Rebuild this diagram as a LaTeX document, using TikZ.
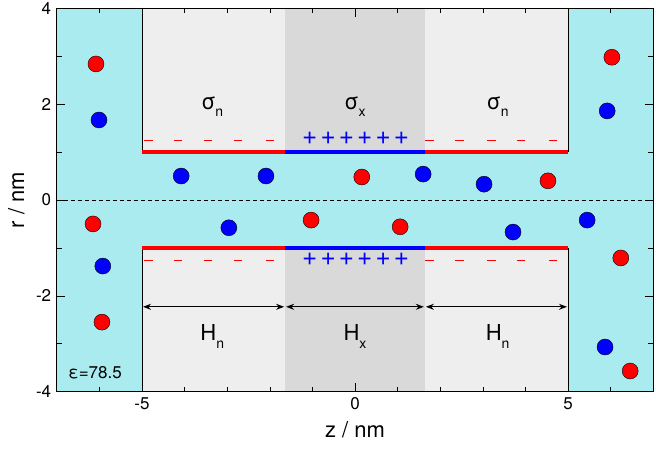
\documentclass[tikz,border=0pt]{standalone}
\usepackage{fontspec}
\setmainfont{TeX Gyre Heros}
\usetikzlibrary{arrows.meta}
\definecolor{water}{RGB}{170,235,240}
\definecolor{wallx}{RGB}{217,217,217}
\definecolor{walln}{RGB}{238,238,238}
\newcommand{\subsz}{\fontsize{14}{14}\selectfont}
\tikzset{
  ionp/.style={circle, draw, fill=red, inner sep=0pt, minimum size=16pt},
  ionn/.style={circle, draw, fill=blue, inner sep=0pt, minimum size=16pt},
  lab/.style={font=\fontsize{17}{17}\selectfont},
  big/.style={font=\fontsize{22}{22}\selectfont},
  plus/.style={blue, font=\fontsize{26}{26}\selectfont, inner sep=0pt},
}
\begin{document}
\begin{tikzpicture}[x=42.6pt,y=47.9pt]
\useasboundingbox (-8.333,-5.198) rectangle (7.066,4.175);
% regions
\fill[water] (-7,-4) rectangle (7,4);
\fill[walln] (-5,1) rectangle (5,4);
\fill[walln] (-5,-1) rectangle (5,-4);
\fill[wallx] (-1.64,1) rectangle (1.64,4);
\fill[wallx] (-1.64,-1) rectangle (1.64,-4);
\draw (-5,4) -- (-5,1) (5,4) -- (5,1) (-5,-4) -- (-5,-1) (5,-4) -- (5,-1);
\draw[dash pattern=on 4pt off 3pt] (-7,0) -- (7,0);
% charged surfaces
\draw[red, line width=3.5pt] (-5,1) -- (-1.64,1) (1.64,1) -- (5,1) (-5,-1) -- (-1.64,-1) (1.64,-1) -- (5,-1);
\draw[blue, line width=3.5pt] (-1.64,1) -- (1.64,1) (-1.64,-1) -- (1.64,-1);
\foreach \z in {-4.85,-4.15,-3.45,-2.75,-2.0,1.75,2.45,3.2,3.9,4.65}{
  \draw[red] (\z-0.1,1.25) -- (\z+0.1,1.25) (\z-0.1,-1.25) -- (\z+0.1,-1.25);
}
\foreach \z in {-1.06,-0.63,-0.2,0.23,0.66,1.09}{
  \node[plus] at (\z,1.29) {+};
  \node[plus] at (\z,-1.24) {+};
}
% labels
\node[big] (sn1) at (-3.35,1.94) {σ\raisebox{-7pt}{\subsz n}};
\node[big] (sx) at (0,1.94) {σ\raisebox{-7pt}{\subsz x}};
\node[big] (sn2) at (3.35,1.94) {σ\raisebox{-7pt}{\subsz n}};
\coordinate (a0) at (-5,-2.23);
\coordinate (a1) at (-1.64,-2.23);
\coordinate (a2) at (1.64,-2.23);
\coordinate (a3) at (5,-2.23);
\path[{Stealth[length=8pt]}-{Stealth[length=8pt]}, line width=1.2pt, shorten >=1pt, shorten <=1pt]
  (a0) edge (a1) (a1) edge (a2) (a2) edge (a3);
\node[big] (hn1) at (-3.35,-2.85) {H\raisebox{-8pt}{\subsz n}};
\node[big] (hx) at (0,-2.85) {H\raisebox{-8pt}{\subsz x}};
\node[big] (hn2) at (3.35,-2.85) {H\raisebox{-8pt}{\subsz n}};
\node[lab] (eps) at (-6.1,-3.6) {ε=78.5};
% ions
\foreach \z/\r/\s [count=\i] in {-6.08/2.84/p,-6.01/1.67/n,-4.08/0.5/n,-2.09/0.5/n,0.16/0.48/p,1.6/0.54/n,3.03/0.33/n,4.53/0.4/p,6.03/2.98/p,5.92/1.86/n,-6.15/-0.5/p,-2.96/-0.58/n,-1.03/-0.42/p,1.06/-0.56/p,3.71/-0.67/n,5.45/-0.42/n,-5.92/-1.38/n,6.24/-1.21/p,-5.94/-2.55/p,5.87/-3.07/n,6.46/-3.57/p}
  \node[ion\s] (ion\i) at (\z,\r) {};
% frame and ticks
\draw[thick] (-7,-4) rectangle (7,4);
\foreach \z in {-6,...,6}{
  \draw (\z,-4) -- ++(0,0.1) (\z,4) -- ++(0,-0.1);
}
\foreach \z in {-5,0,5}{
  \draw (\z,-4) -- ++(0,0.17) (\z,4) -- ++(0,-0.17);
  \node[lab, below] at (\z,-4.05) {\z};
}
\foreach \r in {-3,-1,1,3}{
  \draw (-7,\r) -- ++(0.12,0) (7,\r) -- ++(-0.12,0);
}
\foreach \r in {-4,-2,0,2,4}{
  \draw (-7,\r) -- ++(0.2,0) (7,\r) -- ++(-0.2,0);
  \node[lab, left] at (-7.05,\r) {\r};
}
\node[big] (zlab) at (0,-4.8) {z / nm};
\node[big, rotate=90] (rlab) at (-7.95,0) {r / nm};
\end{tikzpicture}
\end{document}
